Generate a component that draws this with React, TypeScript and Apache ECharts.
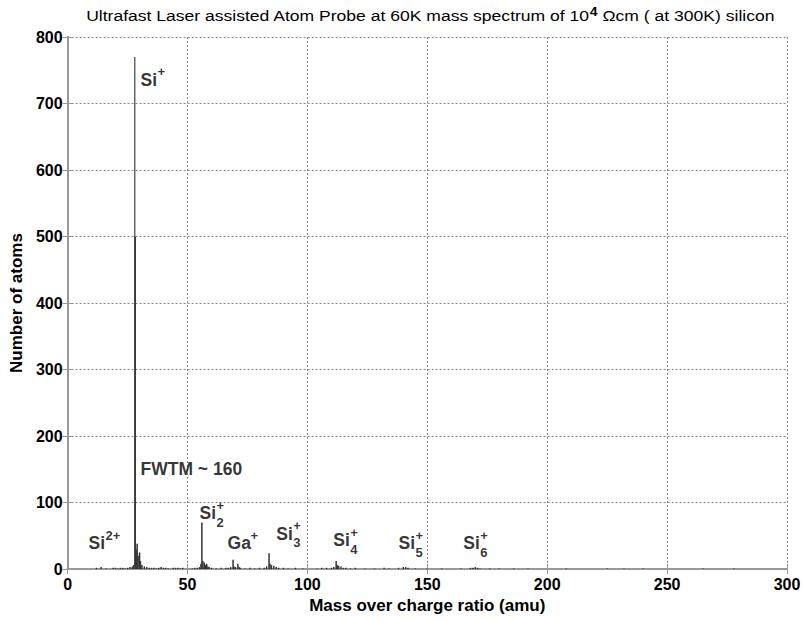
import React, { useEffect, useRef } from "react";
import * as echarts from "echarts";

// Spectrum sticks: mass (amu) and number of atoms
const masses = [12, 14, 16, 19, 20, 21, 22, 23, 24, 25, 26, 27, 27.6, 28, 28.2, 28.6, 29, 29.4, 30, 30.4, 31, 32, 33, 34, 35, 36, 37, 38, 39, 40, 41, 42, 44, 45, 46, 47, 48, 52, 53, 54, 55, 55.6, 56, 56.4, 57, 57.5, 58, 58.5, 59, 60, 62, 64, 66, 67, 68, 69, 69.4, 70, 71, 71.5, 72, 74, 76, 78, 80, 82, 83, 84, 84.4, 85, 86, 87, 88, 90, 92, 95, 98, 104, 106, 108, 110, 111, 112, 112.5, 113, 114, 115, 116, 118, 120, 124, 128, 132, 134, 138, 140, 141, 142, 145, 150, 156, 164, 168, 169, 170, 171, 172, 176, 180, 186, 192, 208, 225, 232, 240, 265, 278];
const counts = [2, 3, 1, 2, 2, 1, 2, 2, 1, 2, 3, 4, 6, 770, 500, 30, 38, 20, 25, 12, 6, 4, 3, 2, 2, 2, 1, 2, 3, 2, 2, 1, 2, 2, 2, 1, 2, 1, 2, 2, 3, 8, 70, 12, 10, 6, 8, 4, 3, 2, 1, 2, 2, 2, 3, 14, 4, 3, 8, 3, 2, 1, 2, 1, 2, 2, 4, 24, 8, 6, 5, 3, 2, 2, 1, 2, 1, 1, 2, 2, 2, 3, 12, 6, 5, 4, 2, 2, 1, 2, 1, 1, 2, 1, 2, 3, 3, 2, 1, 1, 1, 1, 2, 2, 3, 2, 1, 1, 1, 1, 1, 1, 1, 1, 1, 1, 1];

const xTicks = [0, 50, 100, 150, 200, 250, 300];
const yTicks = [0, 100, 200, 300, 400, 500, 600, 700, 800];

// Peak annotations: left edge (amu), vertical centre (atoms), base text, subscript, superscript
const annNames = ["Si", "FWTM ~ 160", "Si", "Si", "Ga", "Si", "Si", "Si", "Si"];
const annX = [30.4, 30.4, 8.75, 55, 66.7, 87, 110.8, 138, 165];
const annY = [736, 151, 38.5, 84, 38.5, 53, 43, 38.5, 38.5];
const annSub = ["", "", "", "2", "", "3", "4", "5", "6"];
const annSup = ["+", "", "2+", "+", "+", "+", "+", "+", "+"];

const FONT = "Liberation Sans, Arial, sans-serif";

export default function App() {
  const ref = useRef<HTMLDivElement>(null);
  useEffect(() => {
    document.body.style.margin = "0";
    const chart = echarts.init(ref.current!, null, { renderer: "svg" });
    const sticks = masses.map((m, i) => [m, counts[i]]);

    const labelItems: any[] = [];
    annNames.forEach((n, i) => {
      const baseW = n === "Si" ? 17 : n === "Ga" ? 23 : 0;
      labelItems.push({
        value: [annX[i], annY[i]],
        label: {
          show: true, position: "inside", align: "left", verticalAlign: "middle",
          formatter: n, fontSize: 17.5, fontWeight: "bold", color: "#000", fontFamily: FONT,
        },
      });
      if (annSub[i]) {
        labelItems.push({
          value: [annX[i], annY[i]],
          label: {
            show: true, position: "inside", align: "left", verticalAlign: "middle",
            offset: [baseW, 9], formatter: annSub[i], fontSize: 13, fontWeight: "bold", color: "#000", fontFamily: FONT,
          },
        });
      }
      if (annSup[i]) {
        labelItems.push({
          value: [annX[i], annY[i]],
          label: {
            show: true, position: "inside", align: "left", verticalAlign: "middle",
            offset: [baseW, -8], formatter: annSup[i], fontSize: 13, fontWeight: "bold", color: "#000", fontFamily: FONT,
          },
        });
      }
    });

    const axisName = { fontFamily: FONT, fontSize: 17, fontWeight: "bold", color: "#000" };
    const tickLabel = { fontFamily: FONT, fontSize: 16, fontWeight: "bold", color: "#000" };

    chart.setOption({
      animation: false,
      backgroundColor: "#fff",
      graphic: [
        {
          type: "text", x: 430, y: 15, scaleX: 1.17, scaleY: 1,
          style: {
            text: "Ultrafast Laser assisted Atom Probe at 60K mass spectrum of 10{s|4} Ωcm ( at 300K) silicon",
            align: "center", verticalAlign: "middle",
            fontFamily: FONT, fontSize: 15, fontWeight: "normal", fill: "#000",
            rich: { s: { fontSize: 12, fontWeight: "bold", verticalAlign: "top", padding: [0, 0, 7, 0], fontFamily: FONT, fill: "#000" } },
          },
        },
      ],
      grid: { left: 67, right: 17, top: 37, bottom: 42, containLabel: false },
      xAxis: [
        {
          type: "value", min: 0, max: 300, interval: 50,
          name: "Mass over charge ratio (amu)", nameLocation: "middle", nameGap: 26,
          nameTextStyle: axisName,
          axisLine: { show: true, onZero: false, lineStyle: { color: "#999", width: 2 } },
          axisTick: { show: true, inside: true, length: 5, lineStyle: { color: "#999" } },
          axisLabel: { ...tickLabel, margin: 7, formatter: (v: number) => (xTicks.includes(v) ? String(v) : "") },
          splitLine: { show: true, lineStyle: { color: "#888", type: [2, 2], width: 1 } },
        },
        {
          type: "value", min: 0, max: 300, interval: 50, position: "top",
          axisLine: { show: true, lineStyle: { color: "#999", width: 2 } },
          axisTick: { show: true, inside: true, length: 5, lineStyle: { color: "#999" } },
          axisLabel: { show: false }, splitLine: { show: false },
        },
      ],
      yAxis: [
        {
          type: "value", min: 0, max: 800, interval: 100,
          name: "Number of atoms", nameLocation: "middle", nameGap: 42,
          nameTextStyle: axisName,
          axisLine: { show: true, onZero: false, lineStyle: { color: "#999", width: 2 } },
          axisTick: { show: true, inside: true, length: 5, lineStyle: { color: "#999" } },
          axisLabel: { ...tickLabel, margin: 5, formatter: (v: number) => (yTicks.includes(v) ? String(v) : "") },
          splitLine: { show: true, lineStyle: { color: "#888", type: [2, 2], width: 1 } },
        },
        {
          type: "value", min: 0, max: 800, interval: 100, position: "right",
          axisLine: { show: true, lineStyle: { color: "#999", width: 2 } },
          axisTick: { show: true, inside: true, length: 5, lineStyle: { color: "#999" } },
          axisLabel: { show: false }, splitLine: { show: false },
        },
      ],
      series: [
        {
          type: "bar", data: sticks, barWidth: 1.5, barGap: "-100%",
          itemStyle: { color: (p: any) => (p.value[1] > 600 ? "#666" : "#333") },
          xAxisIndex: 0, yAxisIndex: 0,
        },
        {
          type: "scatter", data: labelItems, symbolSize: 0, silent: true,
          xAxisIndex: 0, yAxisIndex: 0,
        },
      ],
    });
    return () => chart.dispose();
  }, []);
  return <div ref={ref} style={{ position: "absolute", left: 0, top: 0, width: 804, height: 619 }} />;
}
